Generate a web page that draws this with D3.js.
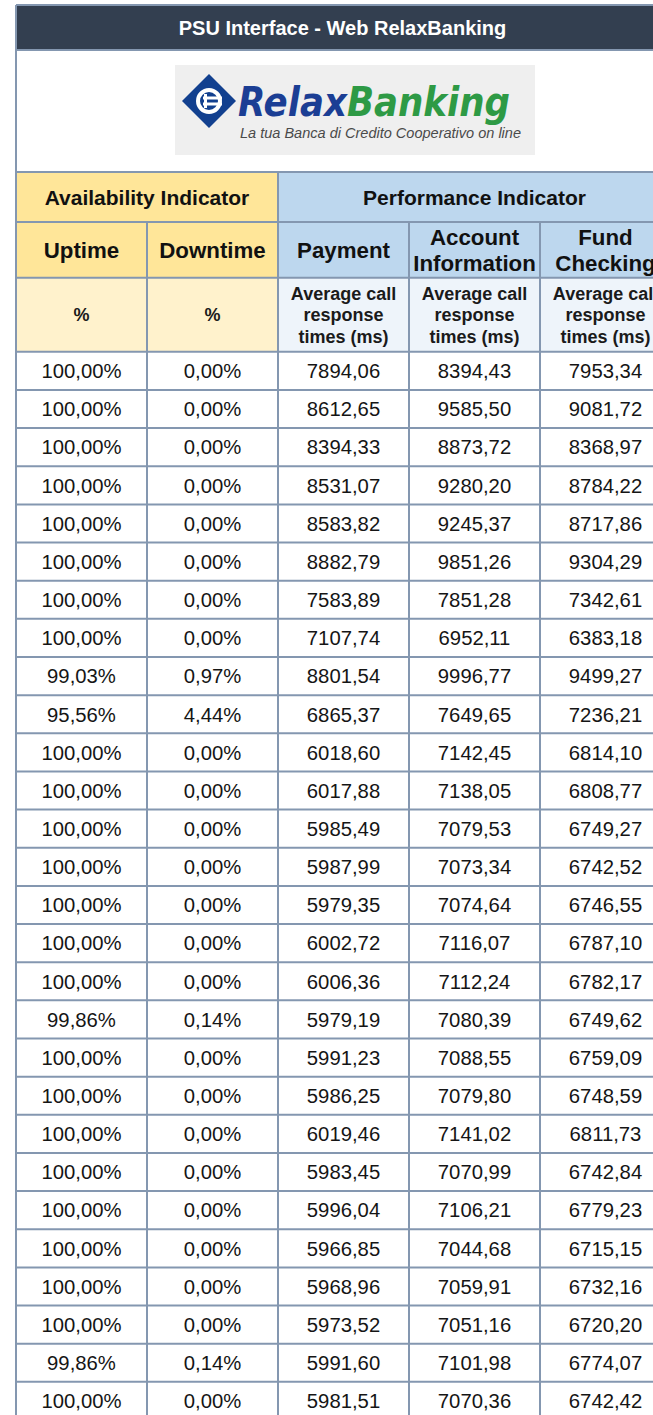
<!DOCTYPE html>
<html>
<head>
<meta charset="utf-8">
<script src="https://cdn.jsdelivr.net/npm/d3@7"></script>
<style>
  html, body { margin: 0; padding: 0; background: #ffffff; overflow: hidden; }
  svg { display: block; }
  text { font-family: "Liberation Sans", Arial, sans-serif; }
</style>
</head>
<body>
<div id="chart"></div>
<script>
// ---------- DATA ----------
const title = "PSU Interface - Web RelaxBanking";
const brandA = "Relax";
const brandB = "Banking";
const tagline = "La tua Banca di Credito Cooperativo on line";
const groups = ["Availability Indicator", "Performance Indicator"];
const groupSpans = [2, 3];
const columns = ["Uptime", "Downtime", "Payment", "Account Information", "Fund Checking"];
const columnGroup = [0, 0, 1, 1, 1];
const units = ["%", "%", "Average call response times (ms)", "Average call response times (ms)", "Average call response times (ms)"];

const uptime = [100.00, 100.00, 100.00, 100.00, 100.00, 100.00, 100.00, 100.00, 99.03, 95.56,
  100.00, 100.00, 100.00, 100.00, 100.00, 100.00, 100.00, 99.86, 100.00, 100.00,
  100.00, 100.00, 100.00, 100.00, 100.00, 100.00, 99.86, 100.00];
const downtime = [0.00, 0.00, 0.00, 0.00, 0.00, 0.00, 0.00, 0.00, 0.97, 4.44,
  0.00, 0.00, 0.00, 0.00, 0.00, 0.00, 0.00, 0.14, 0.00, 0.00,
  0.00, 0.00, 0.00, 0.00, 0.00, 0.00, 0.14, 0.00];
const payment = [7894.06, 8612.65, 8394.33, 8531.07, 8583.82, 8882.79, 7583.89, 7107.74, 8801.54, 6865.37,
  6018.60, 6017.88, 5985.49, 5987.99, 5979.35, 6002.72, 6006.36, 5979.19, 5991.23, 5986.25,
  6019.46, 5983.45, 5996.04, 5966.85, 5968.96, 5973.52, 5991.60, 5981.51];
const accountInformation = [8394.43, 9585.50, 8873.72, 9280.20, 9245.37, 9851.26, 7851.28, 6952.11, 9996.77, 7649.65,
  7142.45, 7138.05, 7079.53, 7073.34, 7074.64, 7116.07, 7112.24, 7080.39, 7088.55, 7079.80,
  7141.02, 7070.99, 7106.21, 7044.68, 7059.91, 7051.16, 7101.98, 7070.36];
const fundChecking = [7953.34, 9081.72, 8368.97, 8784.22, 8717.86, 9304.29, 7342.61, 6383.18, 9499.27, 7236.21,
  6814.10, 6808.77, 6749.27, 6742.52, 6746.55, 6787.10, 6782.17, 6749.62, 6759.09, 6748.59,
  6811.73, 6742.84, 6779.23, 6715.15, 6732.16, 6720.20, 6774.07, 6742.42];

// ---------- LAYOUT ----------
const W = 653, H = 1415;
const left = 16, right = 671;
const yTop = 5, yTitleB = 50, yLogoB = 172, yGroupB = 222, ySubB = 277.7, yUnitB = 351.8;
const rowH = 38.15;
const border = "#8497b0";
const cYellow = "#ffe699", cYellowL = "#fff2cc", cBlue = "#bdd7ee", cBlueL = "#eef4fa";

const locale = d3.formatLocale({ decimal: ",", thousands: ".", grouping: [3], currency: ["", "€"] });
const fNum = locale.format(".2f");
const fPct = v => fNum(v) + "%";

const series = [uptime, downtime, payment, accountInformation, fundChecking];
const formats = [fPct, fPct, fNum, fNum, fNum];
const nRows = uptime.length;

const x = d3.scaleBand().domain(columns).range([left, right]);
const y = d3.scaleBand().domain(d3.range(nRows)).range([yUnitB, yUnitB + nRows * rowH]);

const svg = d3.select("#chart").append("svg").attr("width", W).attr("height", H);

// title band
svg.append("rect").attr("x", left).attr("y", yTop).attr("width", right - left).attr("height", yTitleB - yTop).attr("fill", "#333f50");
svg.append("text").attr("x", (left + right) / 2 - 1).attr("y", (yTop + yTitleB) / 2).attr("dy", "0.36em")
  .attr("text-anchor", "middle").attr("fill", "#ffffff").attr("font-weight", "bold").attr("font-size", 20)
  .text(title);

// logo
const logo = svg.append("g");
logo.append("rect").attr("x", 175).attr("y", 65).attr("width", 360).attr("height", 90).attr("fill", "#efefef");
const dc = [209, 101], ds = 27;
logo.append("path").attr("d", `M${dc[0]},${dc[1]-ds} L${dc[0]+ds},${dc[1]} L${dc[0]},${dc[1]+ds} L${dc[0]-ds},${dc[1]} Z`).attr("fill", "#12408f");
logo.append("circle").attr("cx", dc[0]).attr("cy", dc[1]).attr("r", 11).attr("fill", "none").attr("stroke", "#ffffff").attr("stroke-width", 4);
logo.append("rect").attr("x", dc[0] - 6).attr("y", dc[1] - 4.5).attr("width", 19).attr("height", 3).attr("fill", "#ffffff");
logo.append("rect").attr("x", dc[0] - 6).attr("y", dc[1] + 1.5).attr("width", 19).attr("height", 3).attr("fill", "#ffffff");
logo.append("rect").attr("x", dc[0] - 5).attr("y", dc[1] - 7).attr("width", 3).attr("height", 14).attr("fill", "#ffffff");
const brand = logo.append("text").attr("x", 238).attr("y", 116).attr("font-size", 40).attr("font-weight", "bold")
  .attr("font-style", "italic").style("font-family", "'DejaVu Sans', Verdana, sans-serif")
  .attr("textLength", 272).attr("lengthAdjust", "spacingAndGlyphs");
brand.append("tspan").attr("fill", "#1b3e94").text(brandA);
brand.append("tspan").attr("fill", "#2e9a45").text(brandB);
logo.append("text").attr("x", 240).attr("y", 138).attr("font-size", 15).attr("font-style", "italic")
  .attr("fill", "#4a4a4a").attr("textLength", 281).attr("lengthAdjust", "spacingAndGlyphs").text(tagline);

// group header
let gx = left;
groups.forEach((g, i) => {
  const w = x.bandwidth() * groupSpans[i];
  svg.append("rect").attr("x", gx).attr("y", yLogoB).attr("width", w).attr("height", yGroupB - yLogoB).attr("fill", i === 0 ? cYellow : cBlue);
  svg.append("text").attr("x", gx + w / 2).attr("y", (yLogoB + yGroupB) / 2).attr("dy", "0.36em")
    .attr("text-anchor", "middle").attr("font-weight", "bold").attr("font-size", 21).attr("fill", "#111").text(g);
  gx += w;
});

// sub headers
const sub = svg.append("g").selectAll("g").data(columns).join("g");
sub.append("rect").attr("x", d => x(d)).attr("y", yGroupB).attr("width", x.bandwidth()).attr("height", ySubB - yGroupB)
  .attr("fill", (d, i) => columnGroup[i] === 0 ? cYellow : cBlue);
sub.each(function (d) {
  const words = d.split(" ");
  const lines = words.length > 1 ? words : [d];
  const lh = 26;
  const cy = (yGroupB + ySubB) / 2 - (lines.length - 1) * lh / 2;
  const t = d3.select(this).append("text").attr("text-anchor", "middle").attr("font-weight", "bold").attr("font-size", 22.3).attr("fill", "#111");
  lines.forEach((l, k) => t.append("tspan").attr("x", x(d) + x.bandwidth() / 2).attr("y", cy + k * lh).attr("dy", "0.36em").text(l));
});

// units row
const un = svg.append("g").selectAll("g").data(columns).join("g");
un.append("rect").attr("x", d => x(d)).attr("y", ySubB).attr("width", x.bandwidth()).attr("height", yUnitB - ySubB)
  .attr("fill", (d, i) => columnGroup[i] === 0 ? cYellowL : cBlueL);
un.each(function (d, i) {
  const u = units[i];
  const lines = u === "%" ? ["%"] : ["Average call", "response", "times (ms)"];
  const lh = 21.7;
  const cy = (ySubB + yUnitB) / 2 - (lines.length - 1) * lh / 2;
  const t = d3.select(this).append("text").attr("text-anchor", "middle").attr("font-weight", "bold").attr("font-size", 18).attr("fill", "#1a1a1a");
  lines.forEach((l, k) => t.append("tspan").attr("x", x(d) + x.bandwidth() / 2).attr("y", cy + k * lh).attr("dy", "0.36em").text(l));
});

// data cells
const rows = svg.append("g").selectAll("g").data(d3.range(nRows)).join("g");
rows.selectAll("text").data(r => columns.map((c, j) => ({ c, v: series[j][r], f: formats[j], r })))
  .join("text")
  .attr("x", d => x(d.c) + x.bandwidth() / 2)
  .attr("y", d => y(d.r) + y.bandwidth() / 2)
  .attr("dy", "0.36em")
  .attr("text-anchor", "middle").attr("font-size", 20.3).attr("fill", "#151515")
  .text(d => d.f(d.v));

// grid lines
const grid = svg.append("g").attr("stroke", border).attr("stroke-width", 2).attr("fill", "none");
const hLines = [yTop, yTitleB, yLogoB, yGroupB, ySubB].concat(d3.range(nRows + 1).map(i => yUnitB + i * rowH));
grid.selectAll("line.h").data(hLines).join("line").attr("class", "h")
  .attr("x1", left).attr("x2", right).attr("y1", d => d).attr("y2", d => d);
grid.append("line").attr("x1", left).attr("x2", left).attr("y1", yTop).attr("y2", H);
grid.append("line").attr("x1", right).attr("x2", right).attr("y1", yTop).attr("y2", H);
grid.append("line").attr("x1", x(columns[2])).attr("x2", x(columns[2])).attr("y1", yLogoB).attr("y2", H);
[1, 3, 4].forEach(j => grid.append("line").attr("x1", x(columns[j])).attr("x2", x(columns[j])).attr("y1", yGroupB).attr("y2", H));
</script>
</body>
</html>
